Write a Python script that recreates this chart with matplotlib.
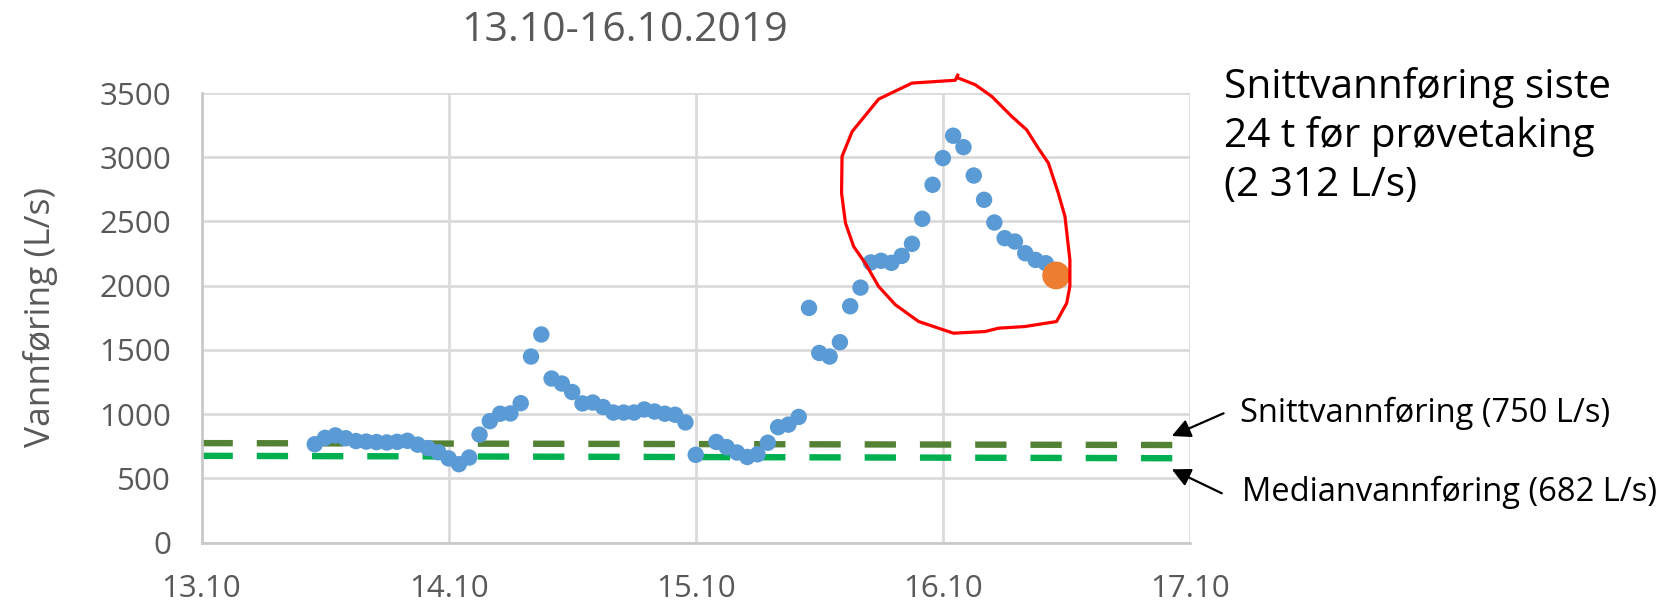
import numpy as np
import matplotlib
matplotlib.use("Agg")
import matplotlib.pyplot as plt

plt.rcParams['font.family'] = ['Open Sans', 'DejaVu Sans']

# ---------------- data ----------------
# hourly discharge (L/s); index = hour of the day, NaN = no reading
day13_hours = list(range(11, 24))
day13_vals = [765, 815, 834, 812, 790, 786, 782, 779, 784, 792, 762, 735, 703]
day14_vals = [655, 610, 662, 840, 945, 1003, 1005, 1085, 1448, 1620, 1277, 1238,
              1172, 1083, 1090, 1055, 1012, 1012, 1012, 1036, 1020, 1003, 995, 935]
day15_vals = [683, np.nan, 783, 743, 701, 666, 687, 777, 898, 918, 978, 1827,
              1476, 1448, 1560, 1840, 1985, 2181, 2194, 2178, 2232, 2326, 2521, 2786]
day16_hours = list(range(0, 11))
day16_vals = [2994, 3168, 3079, 2858, 2669, 2492, 2370, 2344, 2253, 2201, 2175]

sample_day, sample_hour, sample_val = 16, 11, 2080

mean_label = "Snittvannføring (750 L/s)"
median_label = "Medianvannføring (682 L/s)"
mean_line = [774, 759]      # drawn level at start / end of the axis
median_line = [675, 656]
line_days = [13, 17]

x_ticks = [13, 14, 15, 16, 17]
x_ticklabels = ["13.10", "14.10", "15.10", "16.10", "17.10"]
y_ticks = [0, 500, 1000, 1500, 2000, 2500, 3000, 3500]

# hand-drawn red outline (day, L/s)
outline_x = [16.063, 16.131, 16.198, 16.279, 16.339, 16.386, 16.427, 16.467, 16.494,
             16.514, 16.514, 16.501, 16.460, 16.332, 16.225, 16.171, 16.043, 15.902,
             15.808, 15.740, 15.686, 15.639, 15.606, 15.590, 15.592, 15.633, 15.740,
             15.875, 16.050, 16.060]
outline_y = [3617, 3565, 3474, 3318, 3214, 3071, 2955, 2721, 2539, 2201, 1994, 1864,
             1721, 1682, 1669, 1643, 1630, 1721, 1851, 1994, 2175, 2305, 2487, 2721,
             3007, 3201, 3453, 3578, 3600, 3640]

# ---------------- assemble time axis ----------------
t = []
v = []
for h, val in zip(day13_hours, day13_vals):
    t.append(13 + h / 24); v.append(val)
for h, val in enumerate(day14_vals):
    t.append(14 + h / 24); v.append(val)
for h, val in enumerate(day15_vals):
    t.append(15 + h / 24); v.append(val)
for h, val in zip(day16_hours, day16_vals):
    t.append(16 + h / 24); v.append(val)
t = np.array(t); v = np.array(v, dtype=float)

# ---------------- figure ----------------
W, H = 1675, 607
fig = plt.figure(figsize=(W / 100, H / 100), dpi=100)
ax = fig.add_axes([201.5 / W, 64.5 / H, (1190 - 201.5) / W, (542.5 - 93.1) / H])

grid_c = '#D9D9D9'
text_c = '#595959'

ax.set_xlim(13, 17)
ax.set_ylim(0, 3500)
ax.set_xticks(x_ticks)
ax.set_xticklabels(x_ticklabels)
ax.set_yticks(y_ticks)
ax.grid(True, color=grid_c, lw=1.9, zorder=0)
ax.set_axisbelow(True)
for s in ['top', 'right']:
    ax.spines[s].set_visible(False)
for s in ['left', 'bottom']:
    ax.spines[s].set_color('#C8C8C8')
    ax.spines[s].set_linewidth(1.9)
ax.tick_params(axis='both', length=0, labelsize=22.5, labelcolor=text_c)
ax.tick_params(axis='y', pad=22)
ax.tick_params(axis='x', pad=23)

# reference lines
ax.plot(line_days, median_line, color='#00B050', lw=4.6, dashes=(4.9, 3.75),
        dash_capstyle='butt', zorder=2, clip_on=False)
ax.plot(line_days, mean_line, color='#548235', lw=4.6, dashes=(4.9, 3.75),
        dash_capstyle='butt', zorder=2, clip_on=False)

# measurements
ax.scatter(t, v, s=140, color='#5B9BD5', edgecolors='none', zorder=3)
ax.scatter([sample_day + sample_hour / 24], [sample_val], s=400, color='#ED7D31',
           edgecolors='none', zorder=4)

# red hand-drawn outline
ax.plot(outline_x, outline_y, color='#FF0000', lw=2.3, zorder=5, clip_on=False,
        solid_joinstyle='round')

# texts
fig.text(625 / W, 1 - 40.6 / H, "13.10-16.10.2019", ha='center', va='baseline',
         fontsize=29.5, color=text_c)
fig.text(40.6 / W, 1 - 316.7 / H, "Vannføring (L/s)", rotation=90, ha='center',
         va='center', fontsize=25.5, color=text_c)
fig.text(1224 / W, 1 - 196 / H, "Snittvannføring siste\n24 t før prøvetaking\n(2 312 L/s)",
         ha='left', va='baseline', fontsize=29.2, color='black', linespacing=1.27)
fig.text(1240 / W, 1 - 422 / H, mean_label, ha='left', va='baseline',
         fontsize=23.5, color='black')
fig.text(1242 / W, 1 - 501 / H, median_label, ha='left', va='baseline',
         fontsize=23.5, color='black')

arrow_kw = dict(arrowstyle='-|>', lw=1.6, color='black', mutation_scale=28,
                shrinkA=0, shrinkB=0)
ax.annotate("", xy=(1171.8, H - 436), xycoords='figure pixels',
            xytext=(1223.6, H - 413.3), textcoords='figure pixels', arrowprops=arrow_kw)
ax.annotate("", xy=(1171.8, H - 469.3), xycoords='figure pixels',
            xytext=(1221.8, H - 493.3), textcoords='figure pixels', arrowprops=arrow_kw)

fig.savefig("out.png", dpi=100)
